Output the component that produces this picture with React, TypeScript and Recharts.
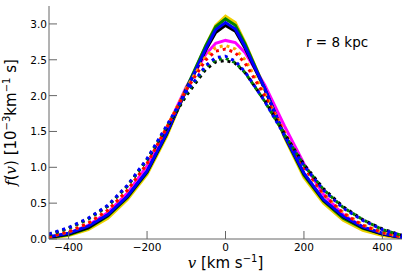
import React from 'react';
import { LineChart, Line, XAxis, YAxis } from 'recharts';

const velocities = [-450, -400, -350, -300, -250, -200, -150, -100, -50, -25, 0, 25, 50, 100, 150, 200, 250, 300, 350, 400, 450];

const solidYellow = [0.01, 0.05, 0.13, 0.29, 0.55, 0.9, 1.43, 2.08, 2.7, 2.98, 3.11, 3.02, 2.74, 2.1, 1.42, 0.86, 0.5, 0.26, 0.12, 0.05, 0.01];
const solidGreen = [0.02, 0.06, 0.15, 0.32, 0.58, 0.93, 1.46, 2.1, 2.7, 2.96, 3.07, 2.98, 2.72, 2.1, 1.44, 0.89, 0.53, 0.29, 0.15, 0.07, 0.02];
const solidBlack = [0.02, 0.07, 0.16, 0.33, 0.59, 0.94, 1.47, 2.08, 2.64, 2.88, 2.98, 2.9, 2.66, 2.09, 1.45, 0.91, 0.54, 0.31, 0.16, 0.07, 0.02];
const solidBlue = [0.03, 0.08, 0.18, 0.34, 0.6, 0.95, 1.48, 2.08, 2.66, 2.92, 3.02, 2.93, 2.68, 2.1, 1.45, 0.92, 0.55, 0.32, 0.17, 0.08, 0.02];
const solidMagenta = [0.02, 0.08, 0.19, 0.37, 0.64, 1.02, 1.54, 2.12, 2.58, 2.73, 2.77, 2.74, 2.6, 2.15, 1.58, 1.05, 0.62, 0.34, 0.17, 0.07, 0.02];
const dottedOrange = [0.03, 0.1, 0.22, 0.4, 0.68, 1.05, 1.56, 2.1, 2.55, 2.67, 2.7, 2.65, 2.5, 2.03, 1.5, 1.01, 0.63, 0.37, 0.2, 0.09, 0.03];
const dottedRed = [0.03, 0.1, 0.22, 0.4, 0.68, 1.05, 1.55, 2.08, 2.5, 2.62, 2.65, 2.6, 2.45, 2.0, 1.48, 1.0, 0.62, 0.36, 0.19, 0.09, 0.03];
const dottedBlack = [0.06, 0.15, 0.28, 0.46, 0.74, 1.1, 1.55, 2.0, 2.37, 2.47, 2.49, 2.45, 2.32, 1.93, 1.47, 1.04, 0.7, 0.45, 0.27, 0.14, 0.05];
const dottedGreen = [0.06, 0.15, 0.28, 0.46, 0.74, 1.11, 1.57, 2.03, 2.4, 2.5, 2.52, 2.46, 2.32, 1.92, 1.46, 1.03, 0.69, 0.44, 0.27, 0.13, 0.05];
const dottedBlue = [0.07, 0.16, 0.29, 0.47, 0.75, 1.12, 1.58, 2.05, 2.42, 2.53, 2.55, 2.48, 2.33, 1.92, 1.45, 1.02, 0.68, 0.43, 0.26, 0.13, 0.05];

const xTicks = [-400, -200, 0, 200, 400];
const yTicks = [0, 0.5, 1, 1.5, 2, 2.5, 3];

const data = velocities.map((v, i) => ({
  v,
  sYellow: solidYellow[i],
  sGreen: solidGreen[i],
  sBlack: solidBlack[i],
  sBlue: solidBlue[i],
  sMagenta: solidMagenta[i],
  dOrange: dottedOrange[i],
  dRed: dottedRed[i],
  dBlack: dottedBlack[i],
  dGreen: dottedGreen[i],
  dBlue: dottedBlue[i],
}));

const AX = '#666';
const FONT = 'DejaVu Sans, sans-serif';
const TL = 8;

const BottomTick = (p: any) => (
  <g>
    <line x1={p.x} x2={p.x} y1={p.y} y2={p.y - TL} stroke={AX} strokeWidth={1} />
    <text x={p.x} y={p.y + 12} textAnchor="middle" fontFamily={FONT} fontSize={10.5} fill="#000">
      {String(p.payload.value).replace('-', '\u2212')}
    </text>
  </g>
);
const TopTick = (p: any) => (
  <line x1={p.x} x2={p.x} y1={p.y} y2={p.y + TL} stroke={AX} strokeWidth={1} />
);
const LeftTick = (p: any) => (
  <g>
    <line x1={p.x} x2={p.x + TL} y1={p.y} y2={p.y} stroke={AX} strokeWidth={1} />
    <text x={p.x - 2} y={p.y + 4} textAnchor="end" fontFamily={FONT} fontSize={10.5} fill="#000">
      {Number(p.payload.value).toFixed(1)}
    </text>
  </g>
);
const RightTick = (p: any) => (
  <line x1={p.x} x2={p.x - TL} y1={p.y} y2={p.y} stroke={AX} strokeWidth={1} />
);

const YLabel = (p: any) => {
  const vb = p.viewBox || {};
  const cx = 16;
  const cy = (vb.y ?? 6) + (vb.height ?? 233) / 2;
  return (
    <text transform={`translate(${cx},${cy}) rotate(-90)`} textAnchor="middle" fontFamily={FONT} fontSize={15} fill="#000">
      <tspan fontFamily="DejaVu Serif, serif" fontStyle="italic">f</tspan>
      <tspan>(</tspan>
      <tspan fontFamily="DejaVu Serif, serif" fontStyle="italic">v</tspan>
      <tspan>) [10</tspan>
      <tspan dy={-6} fontSize={10}>{'\u2212'}3</tspan>
      <tspan dy={6}>km</tspan>
      <tspan dy={-6} fontSize={10}>{'\u2212'}1</tspan>
      <tspan dy={6}> s]</tspan>
    </text>
  );
};

const XLabel = (p: any) => {
  const vb = p.viewBox || {};
  const cx = (vb.x ?? 49) + (vb.width ?? 353) / 2;
  return (
    <text x={cx} y={268} textAnchor="middle" fontFamily={FONT} fontSize={15} fill="#000">
      <tspan fontFamily="DejaVu Serif, serif" fontStyle="italic">v</tspan>
      <tspan> [km s</tspan>
      <tspan dy={-6} fontSize={10}>{'\u2212'}1</tspan>
      <tspan dy={6}>]</tspan>
    </text>
  );
};

const Annotation = () => (
  <text x={306} y={47} fontFamily={FONT} fontSize={13.5} fill="#000">r = 8 kpc</text>
);

const solidStyle = { strokeWidth: 3, dot: false, isAnimationActive: false, type: 'linear' as const };
const dotDash = '3 4';

export default function App() {
  return (
    <div style={{ position: 'absolute', left: 0, top: 0, width: 415, height: 274, background: '#fff' }}>
      <LineChart width={415} height={274} data={data} margin={{ top: 6, right: 13, bottom: 0, left: 0 }}>
        <XAxis
          dataKey="v"
          type="number"
          domain={[-450, 450]}
          ticks={xTicks}
          allowDataOverflow
          height={35}
          tickSize={0}
          tickMargin={0}
          tickLine={false}
          axisLine={{ stroke: AX }}
          tick={BottomTick}
          interval={0}
          label={{ content: XLabel }}
        />
        <XAxis
          xAxisId="top"
          orientation="top"
          dataKey="v"
          type="number"
          domain={[-450, 450]}
          ticks={xTicks}
          allowDataOverflow
          height={0}
          tickSize={0}
          tickMargin={0}
          tickLine={false}
          axisLine={{ stroke: AX }}
          tick={TopTick}
          interval={0}
        />
        <YAxis
          type="number"
          domain={[0, 3.25]}
          ticks={yTicks}
          allowDataOverflow
          width={49}
          tickSize={0}
          tickMargin={0}
          tickLine={false}
          axisLine={{ stroke: AX }}
          tick={LeftTick}
          interval={0}
          label={{ content: YLabel }}
        />
        <YAxis
          yAxisId="right"
          orientation="right"
          type="number"
          domain={[0, 3.25]}
          ticks={yTicks}
          allowDataOverflow
          width={0}
          tickSize={0}
          tickMargin={0}
          tickLine={false}
          axisLine={{ stroke: AX }}
          tick={RightTick}
          interval={0}
        />
        <Line dataKey="sYellow" stroke="#f0d000" {...solidStyle} />
        <Line dataKey="sMagenta" stroke="#ff00ff" {...solidStyle} />
        <Line dataKey="sGreen" stroke="#008000" {...solidStyle} />
        <Line dataKey="sBlack" stroke="#000000" {...solidStyle} />
        <Line dataKey="sBlue" stroke="#0000ff" {...solidStyle} />
        <Line dataKey="dOrange" stroke="#ffa500" strokeDasharray={dotDash} {...solidStyle} />
        <Line dataKey="dRed" stroke="#ff0000" strokeDasharray={dotDash} {...solidStyle} />
        <Line dataKey="dBlack" stroke="#000000" strokeDasharray={dotDash} {...solidStyle} />
        <Line dataKey="dGreen" stroke="#008000" strokeDasharray={dotDash} {...solidStyle} />
        <Line dataKey="dBlue" stroke="#0000ff" strokeDasharray={dotDash} {...solidStyle} />
        <Annotation />
      </LineChart>
    </div>
  );
}
